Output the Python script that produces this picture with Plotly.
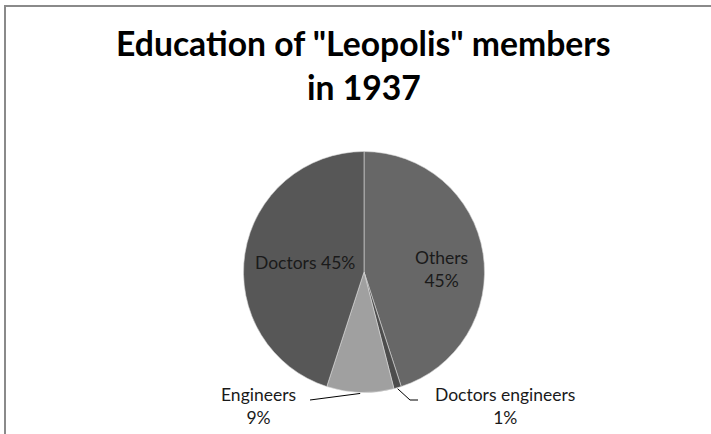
import math
import plotly.graph_objects as go

labels = ["Others", "Doctors engineers", "Engineers", "Doctors"]
values = [45, 1, 9, 45]
colors = ["#676767", "#4d4d4d", "#a0a0a0", "#575757"]
title_lines = ['Education of "Leopolis" members', 'in 1937']

W, H = 711, 434
cx, cy, r = 364, 272, 120.5  # pie centre / radius in pixels

def px(x):
    return x / W

def py(y):
    return 1 - y / H

fig = go.Figure()
fig.add_trace(go.Pie(
    labels=labels,
    values=values,
    sort=False,
    direction="clockwise",
    rotation=0,
    marker=dict(colors=colors, line=dict(color="#d9d9d9", width=0.6)),
    textinfo="none",
    hoverinfo="label+percent",
    showlegend=False,
    domain=dict(x=[px(cx - r), px(cx + r)], y=[py(cy + r), py(cy - r)]),
))

# slice mid-angles from data
total = sum(values)
cum = 0
mids = []
for v in values:
    mids.append((cum + v / 2) / total * 2 * math.pi)
    cum += v

def polar(a, frac):
    return cx + frac * r * math.sin(a), cy - frac * r * math.cos(a)

font_lbl = dict(family="Lato, sans-serif", size=17.5, color="#1a1a1a")
annotations = []
shapes = []

def ann(x, y, text, font):
    return dict(x=px(x), y=py(y), xref="paper", yref="paper", showarrow=False,
                xanchor="center", yanchor="middle", text=text, font=font)

# inside labels
x, y = polar(mids[0], 0.655)
annotations.append(ann(x, y + 9.5, f"{labels[0]}<br>{round(values[0]/total*100)}%", font_lbl))
x, y = polar(mids[3], 0.49)
annotations.append(ann(x - 1, y, f"{labels[3]} {round(values[3]/total*100)}%", font_lbl))

# outside labels with leader lines
ex, ey = polar(mids[2], 1.0)
shapes.append(dict(type="path", xref="paper", yref="paper",
                   path=f"M {px(ex)},{py(ey+1)} L {px(310)},{py(400)}",
                   line=dict(color="#000000", width=1)))
annotations.append(ann(258, 406, f"{labels[2]}<br>{round(values[2]/total*100)}%", font_lbl))

ex, ey = polar(mids[1], 1.0)
shapes.append(dict(type="path", xref="paper", yref="paper",
                   path=f"M {px(ex)},{py(ey+1)} L {px(410)},{py(400)} L {px(418)},{py(400)}",
                   line=dict(color="#000000", width=1)))
annotations.append(ann(505, 406, f"{labels[1]}<br>{round(values[1]/total*100)}%", font_lbl))

# title (two lines placed separately)
font_title = dict(family="Lato, sans-serif", size=33.7, color="#000000")
annotations.append(ann(363.5, 43, f"<b>{title_lines[0]}</b>", font_title))
annotations.append(ann(364, 86.5, f"<b>{title_lines[1]}</b>", font_title))

# chart frame
shapes.append(dict(type="path", xref="paper", yref="paper",
                   path=f"M {px(5)},0 L {px(5)},{py(6)} L 1,{py(6)}",
                   line=dict(color="#8a8a8a", width=2)))

fig.update_layout(
    width=W, height=H,
    margin=dict(l=0, r=0, t=0, b=0),
    paper_bgcolor="white",
    plot_bgcolor="white",
    annotations=annotations,
    shapes=shapes,
)

fig.write_html("out.html", config=dict(displayModeBar=False),
               post_script="document.body.style.margin='0';document.body.style.overflow='hidden';")
